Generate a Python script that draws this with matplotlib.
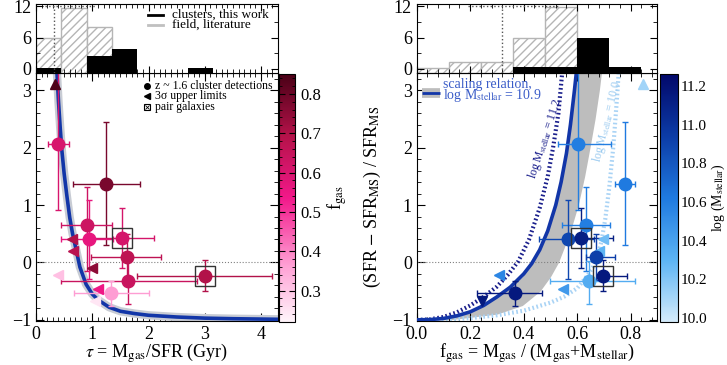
import numpy as np
import matplotlib
matplotlib.use("Agg")
import matplotlib.pyplot as plt
from matplotlib.colors import LinearSegmentedColormap, Normalize
from matplotlib.cm import ScalarMappable
from matplotlib.ticker import MultipleLocator

plt.rcParams['font.family'] = ['Liberation Serif', 'DejaVu Serif']
plt.rcParams['mathtext.fontset'] = 'stix'
plt.rcParams['xtick.direction'] = 'in'
plt.rcParams['ytick.direction'] = 'in'
plt.rcParams['xtick.top'] = True
plt.rcParams['ytick.right'] = True

# cluster detections
tau_det = [0.40, 1.25, 0.90, 0.94, 1.52, 1.61, 3.01, 1.63, 1.34]
tau_lo = [0.18, 0.59, 0.45, 0.50, 0.64, 0.63, 1.22, 1.18, 0.66]
tau_hi = [0.19, 0.60, 0.45, 0.42, 0.58, 0.61, 1.18, 1.23, 0.66]
fgas_det = [0.604, 0.78, 0.633, 0.564, 0.613, 0.67, 0.695, 0.643, 0.367]
fgas_lo = [0.074, 0.038, 0.091, 0.105, 0.06, 0.035, 0.015, 0.143, 0.143]
fgas_hi = [0.121, 0.036, 0.09, 0.10, 0.12, 0.07, 0.09, 0.173, 0.10]
dsfr_det = [2.06, 1.36, 0.65, 0.40, 0.42, 0.09, -0.23, -0.33, -0.54]
dsfr_lo = [1.15, 1.05, 0.80, 0.69, 0.52, 0.40, 0.27, 0.39, 0.22]
dsfr_hi = [1.40, 1.08, 0.66, 0.69, 0.52, 0.40, 0.27, 0.35, 0.22]
logm_det = [10.6, 10.62, 10.6, 10.88, 11.12, 10.92, 11.15, 10.35, 11.15]
pair = [False, False, False, False, True, False, True, False, False]

# 3 sigma limits
tau_lim = [0.335, 0.64, 0.66, 0.99, 1.10, 0.39, 1.05]
fgas_lim = [0.845, 0.695, 0.68, 0.75, 0.546, 0.309, 0.245]
dsfr_lim = [3.10, 0.40, 0.20, -0.10, -0.46, -0.21, -0.67]
logm_lim = [10.12, 10.25, 10.3, 10.8, 10.45, 10.55, 11.15]
mark_left = ['^', '<', '<', '<', '<', '<', '<']
mark_right = ['^', '<', '<', None, '<', '<', 'v']

# scaling relation curves
tau_curve = [0.37, 0.40, 0.43, 0.46, 0.50, 0.55, 0.60, 0.65, 0.70, 0.78, 0.89, 1.0, 1.1, 1.3, 1.5, 1.75, 2.0, 2.5, 3.0, 3.5, 4.3]
dsfr_tau_curve = [3.35, 2.80, 2.35, 1.95, 1.55, 1.15, 0.78, 0.50, 0.28, -0.08, -0.38, -0.55, -0.65, -0.78, -0.85, -0.89, -0.92, -0.95, -0.97, -0.98, -0.99]

f_109 = [0.0, 0.05, 0.10, 0.15, 0.20, 0.25, 0.30, 0.35, 0.40, 0.43, 0.46, 0.49, 0.52, 0.54, 0.56, 0.575, 0.59, 0.598]
y_109 = [-1.0, -0.995, -0.975, -0.93, -0.86, -0.75, -0.60, -0.43, -0.20, -0.02, 0.22, 0.55, 1.0, 1.4, 1.9, 2.4, 3.0, 3.35]
f_112 = [0.0, 0.05, 0.10, 0.15, 0.20, 0.25, 0.30, 0.34, 0.38, 0.42, 0.46, 0.49, 0.51, 0.53, 0.545]
y_112 = [-1.0, -0.99, -0.95, -0.87, -0.75, -0.60, -0.42, -0.22, 0.02, 0.40, 0.95, 1.5, 2.0, 2.6, 3.35]
f_100 = [0.0, 0.1, 0.2, 0.3, 0.4, 0.5, 0.55, 0.60, 0.64, 0.67, 0.69, 0.705, 0.72, 0.735, 0.748, 0.756]
y_100 = [-1.0, -0.995, -0.97, -0.92, -0.84, -0.70, -0.60, -0.45, -0.22, 0.0, 0.35, 0.75, 1.3, 2.0, 2.8, 3.35]
band_y = [-1.0, -0.9, -0.75, -0.5, -0.25, 0.0, 0.5, 1.0, 1.5, 2.0, 2.5, 3.0, 3.35]
band_left = [0.05, 0.17, 0.245, 0.33, 0.395, 0.43, 0.485, 0.515, 0.54, 0.56, 0.575, 0.588, 0.596]
band_right = [0.12, 0.30, 0.395, 0.461, 0.50, 0.53, 0.572, 0.604, 0.628, 0.648, 0.667, 0.683, 0.692]

# histograms (bar tops read on the axis scale)
tau_edges = [0.0, 0.45, 0.90, 1.35, 1.80, 2.25, 2.70]
tau_field = [5.9, 11.6, 8.1, np.nan, np.nan, np.nan, np.nan]
tau_clus = [0.25, np.nan, 2.5, 3.75, np.nan, np.nan, 0.25]
fg_edges = [0.0, 0.12, 0.24, 0.36, 0.48, 0.60, 0.72]
fg_field = [0.25, 1.4, 1.4, 5.95, 11.8, np.nan, np.nan]
fg_clus = [np.nan, np.nan, np.nan, 0.3, 0.3, 5.95, 0.3]
tau_med, tau_rng = 0.32, [0.16, 1.04]
fg_med, fg_rng = 0.32, [0.19, 0.53]

cmap_f = LinearSegmentedColormap.from_list('fg', [(0, '#fff4fa'), (0.22, '#ffa3d6'), (0.5, '#f2188a'), (0.75, '#b5124a'), (1, '#4a0016')])
cmap_m = LinearSegmentedColormap.from_list('lm', [(0, '#d4ebfb'), (0.25, '#5cb4f4'), (0.5, '#1f7ae0'), (0.75, '#0c3ca6'), (1, '#02086a')])
norm_f = Normalize(0.22, 0.85)
norm_m = Normalize(9.98, 11.26)

fig = plt.figure(figsize=(7.27, 3.65), dpi=100)
ax1 = fig.add_axes([0.0495, 0.1205, 0.3329, 0.6795])
h1 = fig.add_axes([0.0495, 0.8, 0.3329, 0.189])
c1 = fig.add_axes([0.3838, 0.1178, 0.022, 0.679])
ax2 = fig.add_axes([0.5732, 0.1205, 0.331, 0.6795])
h2 = fig.add_axes([0.5732, 0.8, 0.331, 0.189])
c2 = fig.add_axes([0.9075, 0.1178, 0.025, 0.679])

blue = '#1236a8'

# ---- left panel
ax1.axhline(0, color='grey', ls=':', lw=0.8)
ax1.plot(tau_curve, dsfr_tau_curve, color='#c8ccd4', lw=6, zorder=2)
ax1.plot(tau_curve, dsfr_tau_curve, color=blue, lw=2.6, zorder=3)
for i in range(len(tau_det)):
    c = cmap_f(norm_f(fgas_det[i]))
    ax1.errorbar(tau_det[i], dsfr_det[i], xerr=[[tau_lo[i]], [tau_hi[i]]], yerr=[[dsfr_lo[i]], [dsfr_hi[i]]],
                 fmt='o', color=c, ms=9, elinewidth=1, capsize=2.5, zorder=4)
    if pair[i]:
        ax1.plot(tau_det[i], dsfr_det[i], 's', ms=14, mfc='none', mec='#333333', mew=1, zorder=5)
for i in range(len(tau_lim)):
    ax1.plot(tau_lim[i], dsfr_lim[i], mark_left[i], color=cmap_f(norm_f(fgas_lim[i])), ms=7, zorder=4)
ax1.set_xlim(0, 4.3)
ax1.set_ylim(-1.02, 3.3)
ax1.xaxis.set_major_locator(MultipleLocator(1))
ax1.xaxis.set_minor_locator(MultipleLocator(0.1))
ax1.yaxis.set_major_locator(MultipleLocator(1))
ax1.yaxis.set_minor_locator(MultipleLocator(0.2))
ax1.set_xlabel(r'$\tau$ = M$_{\rm gas}$/SFR (Gyr)', fontsize=13, labelpad=-1)
ax1.set_ylabel(r'(SFR $-$ SFR$_{\rm MS}$) / SFR$_{\rm MS}$', fontsize=13)
ax1.yaxis.set_label_coords(-0.14, 0.5)

# legend of symbols
ax1.plot(0.459, 0.949, 'o', color='black', ms=4, transform=ax1.transAxes)
ax1.plot(0.459, 0.907, '<', color='black', ms=4, transform=ax1.transAxes)
ax1.plot(0.459, 0.863, 's', mfc='none', mec='black', ms=5, mew=0.8, transform=ax1.transAxes)
ax1.plot(0.459, 0.863, 'x', color='black', ms=3, mew=0.6, transform=ax1.transAxes)
ax1.text(0.49, 0.949, 'z ~ 1.6 cluster detections', transform=ax1.transAxes, fontsize=8.5, va='center')
ax1.text(0.49, 0.907, '3σ upper limits', transform=ax1.transAxes, fontsize=8.5, va='center')
ax1.text(0.49, 0.863, 'pair galaxies', transform=ax1.transAxes, fontsize=8.5, va='center')

# ---- right panel
ax2.axhline(0, color='grey', ls=':', lw=0.8)
ax2.fill_betweenx(band_y, band_left, band_right, color='#bdbdbd', lw=0, zorder=1)
ax2.plot(f_112, y_112, color='#1a1f8c', lw=3, ls=(0, (0.4, 0.6)), zorder=2)
ax2.plot(f_100, y_100, color='#a9d3f5', lw=3, ls=(0, (0.4, 0.6)), zorder=2)
ax2.plot(f_109, y_109, color=blue, lw=2.6, zorder=3)
for i in range(len(fgas_det)):
    c = cmap_m(norm_m(logm_det[i]))
    ax2.errorbar(fgas_det[i], dsfr_det[i], xerr=[[fgas_lo[i]], [fgas_hi[i]]], yerr=[[dsfr_lo[i]], [dsfr_hi[i]]],
                 fmt='o', color=c, ms=9, elinewidth=1, capsize=2.5, zorder=4)
    if pair[i]:
        ax2.plot(fgas_det[i], dsfr_det[i], 's', ms=14, mfc='none', mec='#333333', mew=1, zorder=5)
for i in range(len(fgas_lim)):
    if mark_right[i] is not None:
        ax2.plot(fgas_lim[i], dsfr_lim[i], mark_right[i], color=cmap_m(norm_m(logm_lim[i])), ms=7, zorder=4)
ax2.text(0.482, 2.15, r'log M$_{\rm stellar}$ = 11.2', color='#1a1f8c', fontsize=8.5, rotation=72, ha='center', va='center')
ax2.text(0.712, 2.45, r'log M$_{\rm stellar}$ = 10.0', color='#9ccbf0', fontsize=8.5, rotation=76, ha='center', va='center')
ax2.set_xlim(0, 0.9)
ax2.set_ylim(-1.02, 3.3)
ax2.xaxis.set_major_locator(MultipleLocator(0.2))
ax2.xaxis.set_minor_locator(MultipleLocator(0.04))
ax2.yaxis.set_major_locator(MultipleLocator(1))
ax2.yaxis.set_minor_locator(MultipleLocator(0.2))
ax2.xaxis.set_major_formatter(plt.FormatStrFormatter('%.1f'))
ax2.set_xlabel(r'f$_{\rm gas}$ = M$_{\rm gas}$ / (M$_{\rm gas}$+M$_{\rm stellar}$)', fontsize=13, labelpad=-1)
ax2.set_ylabel(r'(SFR $-$ SFR$_{\rm MS}$) / SFR$_{\rm MS}$', fontsize=13)
ax2.yaxis.set_label_coords(-0.14, 0.5)

# scaling relation legend
ax2.plot([0.02, 0.097], [0.92, 0.92], color='#bdbdbd', lw=7, transform=ax2.transAxes, solid_capstyle='butt')
ax2.plot([0.02, 0.097], [0.92, 0.92], color=blue, lw=2, transform=ax2.transAxes, solid_capstyle='butt')
ax2.text(0.11, 0.955, 'scaling relation,', color='#3a5cc8', fontsize=10, transform=ax2.transAxes, va='center')
ax2.text(0.11, 0.91, r'log M$_{\rm stellar}$ = 10.9', color='#3a5cc8', fontsize=10, transform=ax2.transAxes, va='center')

# ---- histograms
hbase = -0.8
for h, edges, field, clus, width, xmax, med, rng in [(h1, tau_edges, tau_field, tau_clus, 0.45, 4.3, tau_med, tau_rng),
                                                    (h2, fg_edges, fg_field, fg_clus, 0.12, 0.9, fg_med, fg_rng)]:
    fld = np.array(field)
    cls = np.array(clus)
    h.bar(edges, fld - hbase, width=width, bottom=hbase, align='edge', facecolor='white',
          edgecolor='#b5b5b5', hatch='////', lw=1)
    h.bar(edges, cls - hbase, width=width, bottom=hbase, align='edge', color='black', lw=0)
    h.plot([med, med], [hbase, 12], color='#555555', ls=':', lw=1)
    h.plot(rng, [12, 12], color='#555555', ls=':', lw=1)
    h.set_xlim(0, xmax)
    h.set_ylim(hbase, 12.45)
    h.set_yticks([0, 6, 12])
    h.yaxis.set_minor_locator(MultipleLocator(3))
    h.tick_params(labelbottom=False, labelsize=13)
    h.tick_params(which='major', length=5)
    h.tick_params(which='minor', length=3)
h1.xaxis.set_major_locator(MultipleLocator(1))
h1.xaxis.set_minor_locator(MultipleLocator(0.1))
h2.xaxis.set_major_locator(MultipleLocator(0.2))
h2.xaxis.set_minor_locator(MultipleLocator(0.04))
h1.plot([0.463, 0.525], [0.84, 0.84], color='black', lw=2, transform=h1.transAxes)
h1.plot([0.463, 0.525], [0.70, 0.70], color='#c0c0c0', lw=2, transform=h1.transAxes)
h1.text(0.56, 0.84, 'clusters, this work', fontsize=9.5, transform=h1.transAxes, va='center')
h1.text(0.56, 0.70, 'field, literature', fontsize=9.5, transform=h1.transAxes, va='center')

for ax in [ax1, ax2]:
    ax.tick_params(labelsize=13)
    ax.tick_params(which='major', length=6)
    ax.tick_params(which='minor', length=3)

# ---- colorbars
cb1 = fig.colorbar(ScalarMappable(norm=norm_f, cmap=cmap_f), cax=c1)
cb1.set_ticks([0.3, 0.4, 0.5, 0.6, 0.7, 0.8])
cb1.ax.yaxis.set_minor_locator(MultipleLocator(0.02))
cb1.ax.tick_params(labelsize=12, direction='in', left=True, right=True, length=4)
cb1.ax.tick_params(which='minor', direction='in', left=True, right=True, length=2)
cb1.set_label(r'f$_{\rm gas}$', fontsize=13)
cb1.ax.yaxis.set_label_coords(2.9, 0.5)

cb2 = fig.colorbar(ScalarMappable(norm=norm_m, cmap=cmap_m), cax=c2)
cb2.set_ticks([10.0, 10.2, 10.4, 10.6, 10.8, 11.0, 11.2])
cb2.ax.yaxis.set_major_formatter(plt.FormatStrFormatter('%.1f'))
cb2.ax.tick_params(labelsize=11, direction='in', left=True, right=True, length=0, pad=2)
cb2.set_label(r'log (M$_{\rm stellar}$)', fontsize=10)
cb2.ax.yaxis.set_label_coords(2.72, 0.5)

fig.savefig('out.png', dpi=100)
